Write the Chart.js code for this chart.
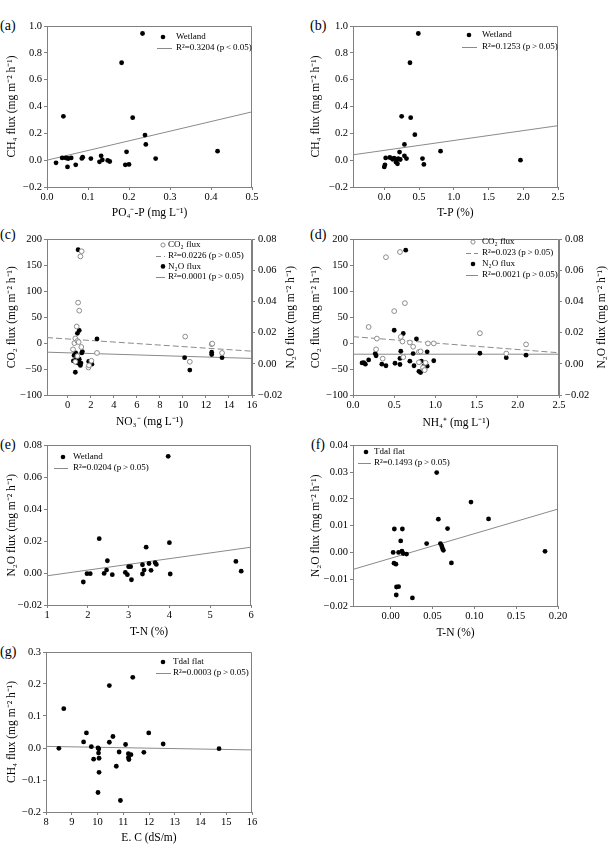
<!DOCTYPE html>
<html lang="en">
<head>
<meta charset="UTF-8">
<title>Fluxes vs soil and water properties</title>
<style>
  body { margin: 0; background: #fff; width: 609px; height: 851px; position: relative; overflow: hidden; }
  canvas { position: absolute; }
  .tag { position: absolute; font-family: "Liberation Serif", "Times New Roman", serif; font-size: 14px; line-height: 16px; color: #000; }
</style>
</head>
<body>

<div class="tag" style="left:0px;top:18px">(a)</div>
<div class="tag" style="left:310px;top:18px">(b)</div>
<div class="tag" style="left:0px;top:227px">(c)</div>
<div class="tag" style="left:310px;top:227px">(d)</div>
<div class="tag" style="left:0px;top:437px">(e)</div>
<div class="tag" style="left:311px;top:437px">(f)</div>
<div class="tag" style="left:0px;top:644px">(g)</div>

<canvas id="pa"></canvas>
<canvas id="pb"></canvas>
<canvas id="pc"></canvas>
<canvas id="pd"></canvas>
<canvas id="pe"></canvas>
<canvas id="pf"></canvas>
<canvas id="pg"></canvas>

<script src="https://cdn.jsdelivr.net/npm/chart.js"></script>
<script>
// (a) CH4 flux vs PO4-P, wetland
const po4A = [0.022, 0.037, 0.040, 0.046, 0.049, 0.050, 0.052, 0.059, 0.070, 0.085, 0.087, 0.107, 0.128, 0.132,
              0.135, 0.148, 0.153, 0.182, 0.191, 0.194, 0.200, 0.209, 0.233, 0.239, 0.241, 0.265, 0.416];
const ch4A = [-0.020, 0.017, 0.327, 0.017, 0.015, -0.050, 0.012, 0.017, -0.035, 0.013, 0.022, 0.012, -0.012, 0.032,
              0.002, -0.002, -0.010, 0.726, -0.035, 0.062, -0.032, 0.317, 0.944, 0.187, 0.117, 0.012, 0.067];
const fitA = [0.0, 0.72];          // intercept, slope

// (b) CH4 flux vs T-P, wetland
const tpB  = [0.00, 0.01, 0.02, 0.08, 0.12, 0.14, 0.17, 0.18, 0.19, 0.20, 0.22, 0.23, 0.25, 0.29, 0.29, 0.32,
              0.37, 0.38, 0.44, 0.49, 0.55, 0.57, 0.81, 1.96];
const ch4B = [-0.050, -0.035, 0.017, 0.020, 0.007, 0.015, -0.015, 0.002, -0.027, 0.012, 0.060, 0.005, 0.327, 0.117,
              0.032, 0.012, 0.726, 0.317, 0.190, 0.944, 0.012, -0.032, 0.067, 0.000];
const fitB = [0.073, 0.0736];

// (c) CO2 and N2O flux vs NO3-
const no3CO2 = [0.46, 0.58, 0.66, 0.66, 0.78, 0.84, 0.84, 0.90, 0.95, 1.00, 1.10, 1.18, 1.21, 1.80, 1.85, 2.05,
                2.54, 10.2, 10.6, 12.5, 12.55, 13.4];
const co2C   = [-12, 0, 9, -36, 32, -25, 4, 78, 2, 62.5, 167, -7.5, 177, -47, -43, -34,
                -19, 12.5, -36, -2, -1, -19];
const no3N2O = [0.49, 0.55, 0.60, 0.66, 0.69, 0.72, 0.75, 0.80, 0.84, 0.90, 0.95, 1.00, 1.00, 1.10, 1.15, 1.22,
                1.27, 1.82, 2.10, 2.54, 10.15, 10.6, 12.5, 12.5, 13.4];
const n2oC   = [0.0019, 0.0054, 0.0019, -0.0054, 0.0070, 0.0025, 0.0010, 0.0012, 0.0196, 0.0733, 0.0004, 0.0215,
                0.0030, -0.0010, 0.0005, 0.0070, 0.0079, 0.0015, -0.0002, 0.0160, 0.0040, -0.0040, 0.0060, 0.0075, 0.0040];
const fitCO2c = [7.95, -1.47];
const fitN2Oc = [0.0071, -0.000225];

// (d) CO2 and N2O flux vs NH4+
const nh4CO2 = [0.19, 0.28, 0.29, 0.36, 0.40, 0.50, 0.57, 0.58, 0.60, 0.61, 0.63, 0.69, 0.73, 0.80, 0.80, 0.82,
                0.85, 0.87, 0.88, 0.91, 0.98, 1.54, 1.86, 2.10];
const co2D   = [31, -12, 8.7, -30, 165.5, 61.6, 175.5, 12, 3, -27, 77, 1.2, -7, -17, -37, -16,
                -47, -52, -38, -0.6, -0.6, 19, -20, -2.5];
const nh4N2O = [0.11, 0.13, 0.15, 0.19, 0.27, 0.28, 0.35, 0.40, 0.50, 0.51, 0.57, 0.57, 0.58, 0.61, 0.64, 0.69,
                0.73, 0.74, 0.77, 0.80, 0.82, 0.83, 0.86, 0.90, 0.90, 0.98, 1.54, 1.86, 2.10];
const n2oD   = [0.0006, 0.0008, -0.0002, 0.0025, 0.0066, 0.0052, -0.0002, -0.0012, 0.0216, 0.0004, -0.0004, 0.0035,
                0.0081, 0.0195, 0.0730, 0.0017, 0.0066, -0.0012, 0.0160, -0.0048, -0.0056, 0.0017, -0.0015, -0.0015,
                0.0077, 0.0020, 0.0068, 0.0040, 0.0056];
const fitCO2d = [12.4, -12.4];
const fitN2Od = [0.0062, 0];

// (e) N2O flux vs T-N, wetland
const tnE  = [1.89, 1.98, 2.06, 2.28, 2.40, 2.46, 2.48, 2.60, 2.92, 2.97, 3.00, 3.05, 3.07, 3.34, 3.34, 3.38,
              3.43, 3.50, 3.55, 3.65, 3.68, 3.97, 4.00, 4.02, 5.63, 5.76];
const n2oE = [-0.0056, -0.0004, -0.0004, 0.0215, -0.0002, 0.0019, 0.0077, -0.0010, 0.0004, -0.0010, 0.0040, 0.0040,
              -0.0042, -0.0006, 0.0052, 0.0019, 0.0162, 0.0060, 0.0017, 0.0065, 0.0054, 0.0731, 0.0190, -0.0006,
              0.0073, 0.0012];
const fitE = [-0.0053, 0.00358];

// (f) N2O flux vs T-N, tidal flat
const tnF  = [0.003, 0.0044, 0.004, 0.0063, 0.0067, 0.007, 0.0095, 0.0095, 0.012, 0.0135, 0.014, 0.015, 0.019,
              0.026, 0.043, 0.055, 0.057, 0.0595, 0.061, 0.062, 0.063, 0.068, 0.0726, 0.096, 0.117, 0.1845];
const n2oF = [0.0, 0.00875, -0.004, -0.0044, -0.0159, -0.0129, -0.0128, 0.0, 0.0043, 0.0005, 0.00875, -0.0004,
              -0.0006, -0.017, 0.0033, 0.0298, 0.0124, 0.0033, 0.0024, 0.0015, 0.0008, 0.0089, -0.0039, 0.0188,
              0.0125, 0.0004];
const fitF = [-0.0022, 0.092];

// (g) CH4 flux vs E.C, tidal flat
const ecG  = [8.50, 8.69, 9.46, 9.57, 9.76, 9.85, 10.02, 10.05, 10.04, 10.06, 10.06, 10.02, 10.46, 10.46, 10.60,
              10.73, 10.84, 10.89, 11.09, 11.20, 11.20, 11.22, 11.30, 11.37, 11.80, 11.99, 12.55, 14.72];
const ch4G = [-0.001, 0.123, 0.019, 0.047, 0.004, -0.035, 0.0, -0.003, -0.016, -0.032, -0.076, -0.139, 0.195,
              0.018, 0.036, -0.057, -0.0125, -0.164, 0.011, -0.018, -0.030, -0.036, -0.021, 0.221, -0.0135, 0.047,
              0.0125, -0.002];
const fitG = [0.016, -0.001375];

// tick values
const xTicksA = [0, 0.1, 0.2, 0.3, 0.4, 0.5];
const yTicksAB = [-0.2, 0, 0.2, 0.4, 0.6, 0.8, 1.0];
const xTicksB = [0, 0.5, 1.0, 1.5, 2.0, 2.5];
const xTicksC = [0, 2, 4, 6, 8, 10, 12, 14, 16];
const yTicksCO2 = [-100, -50, 0, 50, 100, 150, 200];
const yTicksN2O = [-0.02, 0, 0.02, 0.04, 0.06, 0.08];
const xTicksD = [0, 0.5, 1.0, 1.5, 2.0, 2.5];
const xTicksE = [1, 2, 3, 4, 5, 6];
const xTicksF = [0, 0.05, 0.10, 0.15, 0.20];
const yTicksF = [-0.02, -0.01, 0, 0.01, 0.02, 0.03, 0.04];
const xTicksG = [8, 9, 10, 11, 12, 13, 14, 15, 16];
const yTicksG = [-0.2, -0.1, 0, 0.1, 0.2, 0.3];

const FONT = '"Liberation Serif", "Times New Roman", serif';
const frameColor = '#808080';
const tickFont = {family: FONT, size: 10.5};
const titleFont = {family: FONT, size: 11.5};

function fmt(dec) {
  return v => (v < 0 ? '\u2212' : '') + Math.abs(v).toFixed(dec);
}
function pts(xs, ys) {
  return xs.map((x, i) => ({x: x, y: ys[i]}));
}
function fitLine(fit, range) {
  return range.map(x => ({x: x, y: fit[0] + fit[1] * x}));
}
function dotSet(data, axis) {
  return {data: data, yAxisID: axis || 'y', pointRadius: 2.4, pointBackgroundColor: '#000',
          pointBorderColor: '#000', pointBorderWidth: 0, showLine: false};
}
function ringSet(data, axis) {
  return {data: data, yAxisID: axis || 'y', pointRadius: 2.4, pointBackgroundColor: '#fff',
          pointBorderColor: '#8c8c8c', pointBorderWidth: 1, showLine: false};
}
function fitSet(fit, range, dash, axis) {
  return {data: fitLine(fit, range), yAxisID: axis || 'y', showLine: true, borderColor: '#8a8a8a',
          borderWidth: 1, borderDash: dash || [], pointRadius: 0};
}

// frame, in-plot legend and a right axis title that reads bottom-to-top
const decor = {
  id: 'decor',
  afterDatasetsDraw(chart, args, o) {
    const ctx = chart.ctx, ca = chart.chartArea;
    const ox = chart.canvas.offsetLeft, oy = chart.canvas.offsetTop;
    ctx.save();
    ctx.strokeStyle = frameColor;
    ctx.lineWidth = 1;
    ctx.beginPath();
    ctx.moveTo(Math.round(ca.left), Math.round(ca.top) + 0.5);
    ctx.lineTo(Math.round(ca.right) - 0.5, Math.round(ca.top) + 0.5);
    ctx.lineTo(Math.round(ca.right) - 0.5, Math.round(ca.bottom));
    ctx.stroke();

    ctx.font = '9px ' + FONT;
    ctx.textBaseline = 'middle';
    ctx.textAlign = 'left';
    o.legend.forEach((row, i) => {
      const y = o.legendY + i * o.legendRow - oy;
      const mx = o.markX - ox;
      if (row.mark === 'dot') {
        ctx.fillStyle = '#000';
        ctx.beginPath(); ctx.arc(mx, y, 2.3, 0, Math.PI * 2); ctx.fill();
      } else if (row.mark === 'ring') {
        ctx.fillStyle = '#fff'; ctx.strokeStyle = '#8c8c8c';
        ctx.beginPath(); ctx.arc(mx, y, 2.1, 0, Math.PI * 2); ctx.fill(); ctx.stroke();
      } else {
        ctx.strokeStyle = '#8a8a8a';
        ctx.setLineDash(row.mark === 'dash' ? [5, 3] : []);
        ctx.beginPath();
        ctx.moveTo(o.lineX[0] - ox, Math.round(y) + 0.5);
        ctx.lineTo(o.lineX[1] - ox, Math.round(y) + 0.5);
        ctx.stroke();
        ctx.setLineDash([]);
      }
      ctx.fillStyle = '#000';
      ctx.fillText(row.text, o.textX - ox, y);
    });

    if (o.rightTitle) {
      ctx.translate(o.rightTitle.x - ox, (ca.top + ca.bottom) / 2);
      ctx.rotate(-Math.PI / 2);
      ctx.textAlign = 'center';
      ctx.font = titleFont.size + 'px ' + FONT;
      ctx.fillText(o.rightTitle.text, 0, 0);
    }
    ctx.restore();
  }
};

function buildPanel(id, box, plot, cfg) {
  const cv = document.getElementById(id);
  cv.width = box.w;
  cv.height = box.h;
  cv.style.left = box.x + 'px';
  cv.style.top = box.y + 'px';

  const axisCommon = {
    type: 'linear',
    grid: {drawOnChartArea: false, tickLength: 3, color: frameColor},
    border: {color: frameColor}
  };
  const scales = {
    x: Object.assign({}, axisCommon, {
      position: 'bottom',
      min: cfg.xRange[0], max: cfg.xRange[1],
      afterBuildTicks: s => { s.ticks = cfg.xTicks.map(v => ({value: v})); },
      afterFit: s => { s.height = box.y + box.h - plot.bottom; },
      ticks: {callback: fmt(cfg.xDec), font: tickFont, color: '#000', padding: 1, maxRotation: 0, autoSkip: false},
      title: {display: true, text: cfg.xTitle, font: titleFont, color: '#000',
              padding: {top: 0, bottom: box.y + box.h - cfg.xTitleY - titleFont.size * 0.6}}
    }),
    y: Object.assign({}, axisCommon, {
      position: 'left',
      min: cfg.yRange[0], max: cfg.yRange[1],
      afterBuildTicks: s => { s.ticks = cfg.yTicks.map(v => ({value: v})); },
      afterFit: s => { s.width = plot.left - box.x; },
      ticks: {callback: fmt(cfg.yDec), font: tickFont, color: '#000', padding: 2, autoSkip: false},
      title: {display: true, text: cfg.yTitle, font: titleFont, color: '#000',
              padding: {top: cfg.yTitleX - box.x - titleFont.size * 0.6, bottom: 0}}
    })
  };
  let padRight = box.x + box.w - plot.right;
  if (cfg.y2) {
    scales.y2 = Object.assign({}, axisCommon, {
      position: 'right',
      min: cfg.y2.range[0], max: cfg.y2.range[1],
      afterBuildTicks: s => { s.ticks = cfg.y2.ticks.map(v => ({value: v})); },
      afterFit: s => { s.width = box.x + box.w - plot.right; },
      ticks: {callback: fmt(cfg.y2.dec), font: tickFont, color: '#000', padding: 3, autoSkip: false}
    });
    padRight = 0;
  }

  return new Chart(cv, {
    type: 'scatter',
    data: {datasets: cfg.datasets},
    options: {
      responsive: false,
      animation: false,
      events: [],
      layout: {padding: {top: plot.top - box.y, left: 0, right: padRight, bottom: 0}},
      scales: scales,
      plugins: {legend: {display: false}, tooltip: {enabled: false}, decor: cfg.decor}
    },
    plugins: [decor]
  });
}

const ch4Title = 'CH\u2084 flux (mg m\u207B\u00B2 h\u207B\u00B9)';
const co2Title = 'CO\u2082 flux (mg m\u207B\u00B2 h\u207B\u00B9)';
const n2oTitle = 'N\u2082O flux (mg m\u207B\u00B2 h\u207B\u00B9)';

buildPanel('pa', {x: 0, y: 0, w: 300, h: 230}, {left: 47, right: 252, top: 26, bottom: 187}, {
  xRange: [0, 0.5], xTicks: xTicksA, xDec: 1, xTitle: 'PO\u2084\u207B-P (mg L\u207B\u00B9)', xTitleY: 213,
  yRange: [-0.2, 1.0], yTicks: yTicksAB, yDec: 1, yTitle: ch4Title, yTitleX: 12,
  datasets: [dotSet(pts(po4A, ch4A)), fitSet(fitA, [0, 0.5])],
  decor: {legendY: 37, legendRow: 11, markX: 163, lineX: [157, 172], textX: 176,
          legend: [{mark: 'dot', text: 'Wetland'}, {mark: 'solid', text: 'R\u00B2=0.3204 (p\u2009<\u20090.05)'}]}
});

buildPanel('pb', {x: 300, y: 0, w: 309, h: 230}, {left: 353, right: 558, top: 26, bottom: 187}, {
  xRange: [-0.45, 2.5], xTicks: xTicksB, xDec: 1, xTitle: 'T-P (%)', xTitleY: 213,
  yRange: [-0.2, 1.0], yTicks: yTicksAB, yDec: 1, yTitle: ch4Title, yTitleX: 316,
  datasets: [dotSet(pts(tpB, ch4B)), fitSet(fitB, [-0.45, 2.5])],
  decor: {legendY: 35, legendRow: 12, markX: 469, lineX: [462, 477], textX: 482,
          legend: [{mark: 'dot', text: 'Wetland'}, {mark: 'solid', text: 'R\u00B2=0.1253 (p\u2009>\u20090.05)'}]}
});

buildPanel('pc', {x: 0, y: 230, w: 300, h: 207}, {left: 47, right: 252, top: 235, bottom: 395}, {
  xRange: [-1.8, 16], xTicks: xTicksC, xDec: 0, xTitle: 'NO\u2083\u207B (mg L\u207B\u00B9)', xTitleY: 422,
  yRange: [-100, 200], yTicks: yTicksCO2, yDec: 0, yTitle: co2Title, yTitleX: 12,
  y2: {range: [-0.02, 0.08], ticks: yTicksN2O, dec: 2},
  datasets: [
    ringSet(pts(no3CO2, co2C)),
    dotSet(pts(no3N2O, n2oC), 'y2'),
    fitSet(fitCO2c, [-1.8, 16], [6, 3]),
    fitSet(fitN2Oc, [-1.8, 16], [], 'y2')
  ],
  decor: {legendY: 245, legendRow: 10.7, markX: 163, lineX: [156, 165], textX: 168,
          rightTitle: {x: 291, text: n2oTitle},
          legend: [{mark: 'ring', text: 'CO\u2082 flux'}, {mark: 'dash', text: 'R\u00B2=0.0226 (p\u2009>\u20090.05)'},
                   {mark: 'dot', text: 'N\u2082O flux'}, {mark: 'solid', text: 'R\u00B2=0.0001 (p\u2009>\u20090.05)'}]}
});

buildPanel('pd', {x: 300, y: 230, w: 309, h: 207}, {left: 353, right: 559, top: 235, bottom: 395}, {
  xRange: [0, 2.5], xTicks: xTicksD, xDec: 1, xTitle: 'NH\u2084\u207A (mg L\u207B\u00B9)', xTitleY: 423,
  yRange: [-100, 200], yTicks: yTicksCO2, yDec: 0, yTitle: co2Title, yTitleX: 316,
  y2: {range: [-0.02, 0.08], ticks: yTicksN2O, dec: 2},
  datasets: [
    ringSet(pts(nh4CO2, co2D)),
    dotSet(pts(nh4N2O, n2oD), 'y2'),
    fitSet(fitCO2d, [0, 2.5], [6, 3]),
    fitSet(fitN2Od, [0, 2.5], [], 'y2')
  ],
  decor: {legendY: 242, legendRow: 11, markX: 473, lineX: [466, 478], textX: 482,
          rightTitle: {x: 602, text: n2oTitle},
          legend: [{mark: 'ring', text: 'CO\u2082 flux'}, {mark: 'dash', text: 'R\u00B2=0.023 (p\u2009>\u20090.05)'},
                   {mark: 'dot', text: 'N\u2082O flux'}, {mark: 'solid', text: 'R\u00B2=0.0021 (p\u2009>\u20090.05)'}]}
});

buildPanel('pe', {x: 0, y: 437, w: 300, h: 206}, {left: 47, right: 251, top: 445, bottom: 605}, {
  xRange: [1, 6], xTicks: xTicksE, xDec: 0, xTitle: 'T-N (%)', xTitleY: 632,
  yRange: [-0.02, 0.08], yTicks: yTicksN2O, yDec: 2, yTitle: n2oTitle, yTitleX: 12,
  datasets: [dotSet(pts(tnE, n2oE)), fitSet(fitE, [1, 6])],
  decor: {legendY: 457, legendRow: 11, markX: 63, lineX: [54, 68], textX: 73,
          legend: [{mark: 'dot', text: 'Wetland'}, {mark: 'solid', text: 'R\u00B2=0.0204 (p\u2009>\u20090.05)'}]}
});

buildPanel('pf', {x: 300, y: 437, w: 309, h: 206}, {left: 353, right: 558, top: 445, bottom: 606}, {
  xRange: [-0.045, 0.2], xTicks: xTicksF, xDec: 2, xTitle: 'T-N (%)', xTitleY: 633,
  yRange: [-0.02, 0.04], yTicks: yTicksF, yDec: 2, yTitle: n2oTitle, yTitleX: 316,
  datasets: [dotSet(pts(tnF, n2oF)), fitSet(fitF, [-0.045, 0.2])],
  decor: {legendY: 452, legendRow: 11, markX: 366, lineX: [358, 371], textX: 374,
          legend: [{mark: 'dot', text: 'Tdal flat'}, {mark: 'solid', text: 'R\u00B2=0.1493 (p\u2009>\u20090.05)'}]}
});

buildPanel('pg', {x: 0, y: 643, w: 300, h: 208}, {left: 46, right: 252, top: 652, bottom: 812}, {
  xRange: [8, 16], xTicks: xTicksG, xDec: 0, xTitle: 'E. C (dS/m)', xTitleY: 838,
  yRange: [-0.2, 0.3], yTicks: yTicksG, yDec: 1, yTitle: ch4Title, yTitleX: 12,
  datasets: [dotSet(pts(ecG, ch4G)), fitSet(fitG, [8, 16])],
  decor: {legendY: 662, legendRow: 11, markX: 163, lineX: [156, 171], textX: 173,
          legend: [{mark: 'dot', text: 'Tdal flat'}, {mark: 'solid', text: 'R\u00B2=0.0003 (p\u2009>\u20090.05)'}]}
});
</script>
</body>
</html>
